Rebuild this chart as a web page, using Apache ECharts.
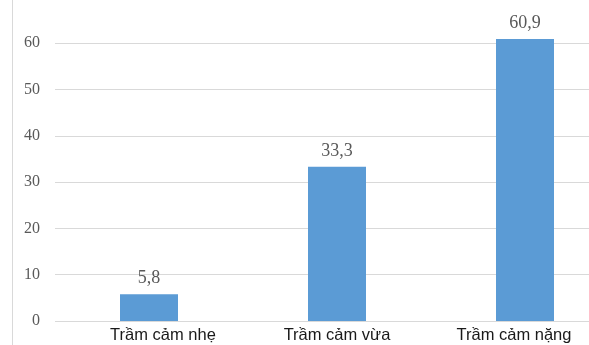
<!DOCTYPE html>
<html>
<head>
<meta charset="utf-8">
<script src="https://cdn.jsdelivr.net/npm/echarts@6/dist/echarts.min.js"></script>
<style>
  html, body { margin: 0; padding: 0; background: #fff; overflow: hidden; width: 589px; height: 345px; position: relative; }
  #chart { position: absolute; left: 0; top: -3px; width: 619px; height: 348px; }
  #frame { position: absolute; left: 12px; top: 0; width: 1px; height: 345px; background: #d9d9d9; }
</style>
</head>
<body>
<div id="chart"></div>
<div id="frame"></div>
<script>
// Depression severity levels and their percentages
const categories = ['Trầm cảm nhẹ', 'Trầm cảm vừa', 'Trầm cảm nặng'];
const values = [5.8, 33.3, 60.9];
// Horizontal nudges of the category captions (left, right padding)
const captionPadding = [[0, 0, 0, 28], [0, 0, 0, 0], [0, 22, 0, 0]];

const chart = echarts.init(document.getElementById('chart'));

chart.setOption({
  animation: false,
  backgroundColor: 'transparent',
  grid: { left: 55, right: 0, top: 0, bottom: 24, containLabel: false },
  xAxis: {
    type: 'category',
    data: categories.map((c, i) => ({ value: c, textStyle: { padding: captionPadding[i] } })),
    axisLine: { show: false },
    axisTick: { show: false },
    axisLabel: {
      color: '#1a1a1a',
      fontFamily: 'Liberation Sans, Arial, sans-serif',
      fontSize: 16.5,
      margin: 6
    }
  },
  yAxis: {
    type: 'value',
    min: 0,
    max: 70,
    interval: 10,
    axisLine: { show: false },
    axisTick: { show: false },
    splitLine: { lineStyle: { color: '#d9d9d9', width: 1 } },
    axisLabel: {
      color: '#595959',
      fontFamily: 'Liberation Serif, Times New Roman, serif',
      fontSize: 16,
      margin: 15,
      formatter: v => (v >= 70 ? '' : String(v))
    }
  },
  series: [{
    type: 'bar',
    data: values,
    barWidth: 58,
    itemStyle: { color: '#5b9bd5' },
    label: {
      show: true,
      position: 'top',
      distance: 7,
      color: '#595959',
      fontFamily: 'Liberation Serif, Times New Roman, serif',
      fontSize: 18,
      formatter: p => String(p.value).replace('.', ',')
    }
  }]
});
</script>
</body>
</html>
